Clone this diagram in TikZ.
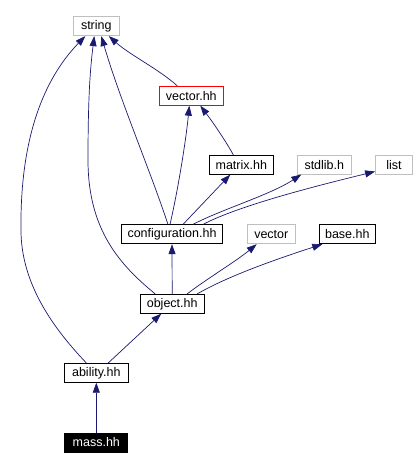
\documentclass[tikz,border=0pt]{standalone}
\usepackage{fontspec}
\setmainfont{Liberation Sans}
\usetikzlibrary{arrows.meta,calc}
\definecolor{edgeblue}{RGB}{25,25,112}
\definecolor{boxgray}{RGB}{191,191,191}
\tikzset{
  box/.style={draw=black, line width=0.8pt, inner sep=0pt, minimum height=19pt, font=\fontsize{12.5}{14}\selectfont, anchor=center},
  graybox/.style={box, draw=boxgray},
  redbox/.style={box, draw=red},
  darkbox/.style={box, fill=black, text=white},
  dep/.style={draw=edgeblue, line width=0.7pt, -{Triangle[length=10pt,width=7pt]}, fill=none}
}
\begin{document}
\begin{tikzpicture}[x=1pt,y=-1pt]
\useasboundingbox (0,0) rectangle (417,470);
\node[graybox, minimum width=46pt] (string) at (96.3,26.2) {string};
\node[redbox, minimum width=64pt] (vectorhh) at (191.3,95.8) {vector.hh};
\node[box, minimum width=64pt] (matrix) at (241.3,164.7) {matrix.hh};
\node[graybox, minimum width=54pt] (stdlib) at (324.3,164.6) {stdlib.h};
\node[graybox, minimum width=37pt] (list) at (394,164.6) {list};
\node[box, minimum width=101pt] (config) at (172,234.3) {configuration.hh};
\node[graybox, minimum width=48pt] (vector) at (271.3,234.3) {vector};
\node[box, minimum width=56pt] (base) at (347.3,234.3) {base.hh};
\node[box, minimum width=64pt] (object) at (172.2,303.8) {object.hh};
\node[box, minimum width=64pt] (ability) at (96.3,372.8) {ability.hh};
\node[darkbox, minimum width=63pt] (mass) at (96.3,442.5) {mass.hh};

\draw[dep] (mass.north) -- (ability.south);
\draw[dep] ($(ability.north)+(12,0)$) -- ($(object.south)+(-11,0)$);
\draw[dep] ($(ability.north)+(-10,0)$) .. controls (55,330) and (21,285) .. (21,230)
  .. controls (20,150) and (38,85) .. ($(string.south)+(-11,0)$);
\draw[dep] ($(object.north)+(-17,0)$) .. controls (120,265) and (88,230) .. (88,160)
  .. controls (88,100) and (90,70) .. ($(string.south)+(-2,0)$);
\draw[dep] ($(config.north)+(-4,0)$) .. controls (150,170) and (120,100) .. ($(string.south)+(5,0)$);
\draw[dep] ($(vectorhh.north)+(-14,0)$) .. controls (160,70) and (130,55) .. ($(string.south)+(12.5,0)$);
\draw[dep] ($(config.north)+(-2,0)$) .. controls (178,190) and (186,140) .. ($(vectorhh.south)+(-2,0)$);
\draw[dep] ($(matrix.north)+(-8,0)$) .. controls (228,145) and (215,125) .. ($(vectorhh.south)+(9,0)$);
\draw[dep] ($(config.north)+(11,0)$) -- ($(matrix.south)+(-11,0)$);
\draw[dep] ($(config.north)+(21,0)$) .. controls (220,210) and (270,195) .. ($(stdlib.south)+(-23,0)$);
\draw[dep] ($(config.north)+(31,0)$) .. controls (240,205) and (320,185) .. ($(list.south west)+(0,-3)$);
\draw[dep] (object.north) -- (config.south);
\draw[dep] ($(object.north)+(15,0)$) .. controls (205,280) and (235,262) .. ($(vector.south)+(-14.6,0)$);
\draw[dep] ($(object.north)+(25,0)$) .. controls (230,275) and (280,258) .. ($(base.south)+(-25,0)$);
\end{tikzpicture}
\end{document}
